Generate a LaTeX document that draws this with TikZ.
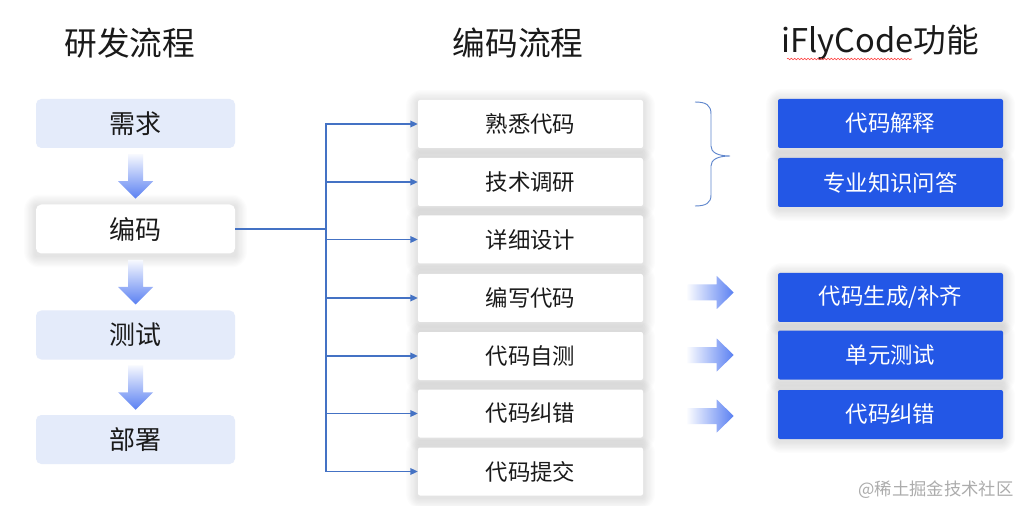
\documentclass[tikz,border=0pt]{standalone}
\usepackage{fontspec}
\setmainfont{Noto Sans CJK SC}
\usetikzlibrary{arrows.meta,calc,decorations.pathmorphing,backgrounds}
\definecolor{lilac}{HTML}{E4EBFA}
\definecolor{fblue}{HTML}{2357E6}
\definecolor{lblue}{HTML}{4472C4}
\definecolor{ablue}{HTML}{5A80F2}
\definecolor{txt}{HTML}{1A1A1A}
\newcommand\softshadow[1]{%
  \begin{pgfonlayer}{background}
  \foreach \k in {1,...,9} {
    \fill[black, opacity=0.012, rounded corners=1.3*\k] ($(#1.south west)+(-1.3*\k,1.3*\k+2)$) rectangle ($(#1.north east)+(1.3*\k,-1.3*\k+2)$);
  }
  \end{pgfonlayer}}
\begin{document}
\begin{tikzpicture}[x=0.75pt,y=-0.75pt,
  title/.style={inner sep=0pt, font=\fontsize{24.5pt}{26pt}\selectfont, text=txt},
  leftbox/.style={fill=lilac, rounded corners=4pt, minimum width=149.25pt, minimum height=36.75pt, inner sep=0pt, font=\fontsize{19.5pt}{20pt}\selectfont, text=txt},
  midbox/.style={fill=white, rounded corners=1.5pt, minimum width=168.75pt, minimum height=36pt, inner sep=0pt, font=\fontsize{16.8pt}{18pt}\selectfont, text=txt},
  funcbox/.style={fill=fblue, rounded corners=1.5pt, minimum width=168.75pt, minimum height=36.75pt, inner sep=0pt, font=\fontsize{16.8pt}{18pt}\selectfont, text=white},
  conn/.style={draw=lblue, line width=0.9pt},
  bracestyle/.style={draw=lblue!85, line width=0.7pt},
  varrow/.pic={\shade[top color=ablue!5, bottom color=ablue] (-7.5,-22) -- (7.5,-22) -- (7.5,5) -- (17.5,5) -- (0,22.5) -- (-17.5,5) -- (-7.5,5) -- cycle;},
  harrow/.pic={\shade[left color=ablue!4, right color=ablue] (-23,-8) -- (6,-8) -- (6,-16.5) -- (23,0) -- (6,16.5) -- (6,8) -- (-23,8) -- cycle;}
]
\useasboundingbox (0,0) rectangle (1022,506);
\begin{pgfonlayer}{background}
\fill[white] (0,0) rectangle (1022,506);
\end{pgfonlayer}

% titles
\node[title] (t1) at (130,43) {研发流程};
\node[title] (t2) at (518,43) {编码流程};
\node[title] (t3) at (880,43) {iFlyCode功能};
\draw[red!80, line width=0.4pt, decorate, decoration={snake,amplitude=0.6pt,segment length=2.5pt}] (787,59) -- (912,59);

% left column
\node[leftbox] (r1) at (135.5,123.5) {需求};
\node[leftbox, fill=white] (r2) at (135.5,229) {编码};
\node[leftbox] (r3) at (135.5,335) {测试};
\node[leftbox] (r4) at (135.5,439.5) {部署};
\softshadow{r2}
\pic at ($(r1.south)!0.5!(r2.north)$) {varrow};
\pic at ($(r2.south)!0.5!(r3.north)$) {varrow};
\pic at ($(r3.south)!0.5!(r4.north)$) {varrow};

% middle column
\node[midbox] (m1) at (530.5,124) {熟悉代码};
\node[midbox] (m2) at (530.5,182) {技术调研};
\node[midbox] (m3) at (530.5,239.5) {详细设计};
\node[midbox] (m4) at (530.5,298) {编写代码};
\node[midbox] (m5) at (530.5,356) {代码自测};
\node[midbox] (m6) at (530.5,413.5) {代码纠错};
\node[midbox] (m7) at (530.5,471.5) {代码提交};
\foreach \i in {1,...,7} {\softshadow{m\i}}

% connectors
\coordinate (j) at (326,229);
\draw[conn] (r2.east) -- (j);
\foreach \i in {1,...,7} {
  \draw[conn, -{Triangle[length=5.5pt,width=5pt]}] (j) |- (m\i.west);
}

% right column
\node[funcbox] (f1) at (890.5,123.5) {代码解释};
\node[funcbox] (f2) at (890.5,182.5) {专业知识问答};
\node[funcbox] (f3) at (890.5,297.5) {代码生成/补齐};
\node[funcbox] (f4) at (890.5,355) {单元测试};
\node[funcbox] (f5) at (890.5,414.5) {代码纠错};
\foreach \i in {1,...,5} {\softshadow{f\i}}

% brace
\draw[bracestyle] (695,102) .. controls (706,102) and (711,105) .. (711,114) -- (711,146) .. controls (711,152) and (717,156) .. (730,156) .. controls (717,156) and (711,160) .. (711,166) -- (711,195) .. controls (711,203) and (706,206) .. (695,206);

% block arrows
\pic at ($(f3.west)+(-67,-5)$) {harrow};
\pic at ($(f4.west)+(-67,0)$) {harrow};
\pic at ($(f5.west)+(-67,1.5)$) {harrow};

% watermark
\node[inner sep=0pt, font=\fontsize{13pt}{14pt}\selectfont, text=gray!65] (wm) at (936,490) {@稀土掘金技术社区};
\end{tikzpicture}
\end{document}
